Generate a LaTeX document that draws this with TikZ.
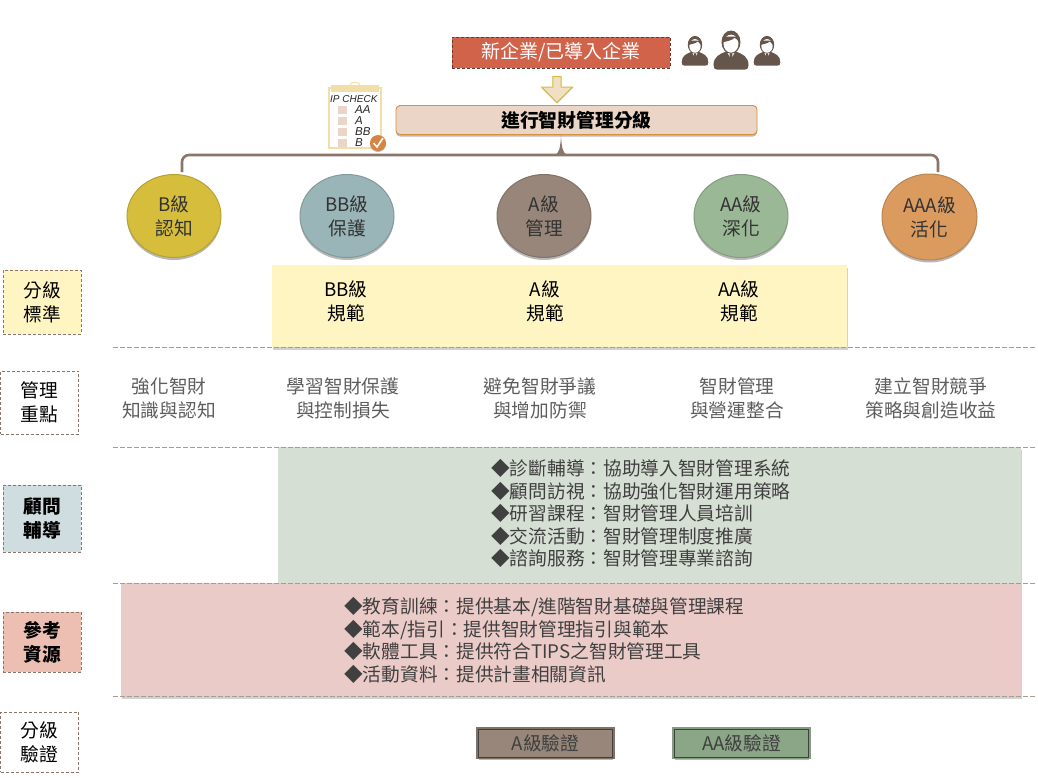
\documentclass[tikz,border=0pt]{standalone}
\usepackage{fontspec}
\setmainfont{Noto Sans CJK TC}
\newfontfamily\tickfont{Liberation Sans}
\usepackage{tikz}
\usetikzlibrary{calc,shadows,shapes.geometric,shapes.arrows}
\definecolor{ink}{HTML}{404040}
\definecolor{linegray}{HTML}{A69C94}
\definecolor{edgebrown}{HTML}{8B7568}
\definecolor{iconbrown}{HTML}{65554A}
\definecolor{topred}{HTML}{D1634A}
\definecolor{gradefill}{HTML}{EAD5C6}
\definecolor{gradeedge}{HTML}{D8903F}
\definecolor{normyellow}{HTML}{FFF5C2}
\definecolor{sheetedge}{HTML}{F2DFA8}
\definecolor{panelgreen}{HTML}{D6DFD4}
\definecolor{panelpink}{HTML}{EBCBC8}
\definecolor{sideblue}{HTML}{CFDDE0}
\definecolor{sidepink}{HTML}{EDBFB2}
\definecolor{lvlb}{HTML}{D6BE3C}
\definecolor{lvlbb}{HTML}{9AB5B8}
\definecolor{lvla}{HTML}{978679}
\definecolor{lvlaa}{HTML}{9BB896}
\definecolor{lvlaaa}{HTML}{DB9B5F}
\newcommand{\bodyfont}{\fontsize{18.7}{24}\selectfont}
\newcommand{\listfont}{\fontsize{18.7}{22.5}\selectfont}
\newcommand{\personicon}[3]{%
  \begin{scope}[shift={(#1,#2)},scale=#3]
    \fill[iconbrown] (-14,13) .. controls (-14,6) and (-9,4) .. (-4,2)
      -- (4,2) .. controls (9,4) and (14,6) .. (14,13)
      .. controls (14,15.5) and (13,16.5) .. (11,16.5) -- (-11,16.5)
      .. controls (-13,16.5) and (-14,15.5) .. (-14,13) -- cycle;
    \fill[white] (-4,1) -- (0,8) -- (4,1) -- cycle;
    \fill[iconbrown] (-1,3.5) -- (1,3.5) -- (1.3,8) -- (0,10) -- (-1.3,8) -- cycle;
    \fill[iconbrown] (0,-5.5) ellipse (7.6 and 9.3);
    \fill[white] (0,-4.3) ellipse (6 and 7.2);
    \fill[iconbrown] (-6.2,-5.5) .. controls (-3,-6.2) and (1,-7) .. (3,-9)
      .. controls (4.5,-8) and (5.5,-7) .. (6.2,-5.5) -- (6.5,-10) -- (-6.5,-10) -- cycle;
  \end{scope}}

\begin{document}
\begin{tikzpicture}[
  x=1pt,y=-1pt,
  font=\bodyfont,
  text=ink,
  softdrop/.style={drop shadow={shadow xshift=0pt,shadow yshift=#1,opacity=1,fill=black!28}},
  side/.style={draw=edgebrown,densely dashed,line width=0.7pt,minimum width=78pt,
    align=center,inner sep=0pt,text=black},
  lvl/.style={ellipse,minimum width=94pt,minimum height=83pt,inner sep=0pt,align=center,
    line width=1pt,text=black!80,softdrop=-2.5pt},
  focus/.style={align=center,text=ink!85},
  panel/.style={anchor=north west,inner sep=0pt,
    drop shadow={shadow xshift=1pt,shadow yshift=-2.5pt,opacity=1,fill=black!18}},
  rule/.style={draw=linegray,dashed,line width=1pt,dash pattern=on 4.5pt off 2.5pt},
  fork/.style={draw=edgebrown,line width=2.6pt,rounded corners=7pt},
  proof/.style={draw=black!75,line width=0.7pt,minimum width=134pt,minimum height=28pt,
    inner sep=0pt,text=ink,softdrop=-2.5pt},
  tick/.style={font=\fontsize{10}{10}\tickfont\itshape,text=black!85,anchor=west,inner sep=0pt}
]
  \useasboundingbox (0,0) rectangle (1038,777);

  % panels
  \node[panel,fill=normyellow,minimum width=575pt,minimum height=82pt] (normband) at (272,265) {};
  \node[panel,fill=panelgreen,minimum width=743pt,minimum height=136pt] (coachband) at (278,447) {};
  \node[panel,fill=panelpink,minimum width=900pt,minimum height=113pt] (refband) at (121,583) {};

  \coordinate (ruleal) at (113,347);
  \coordinate (ruleat) at (1036,347);
  \coordinate (rulebl) at (113,447);
  \coordinate (rulebt) at (1036,447);
  \coordinate (rulecl) at (113,583);
  \coordinate (rulect) at (1036,583);
  \coordinate (ruledl) at (113,696);
  \coordinate (ruledt) at (1036,696);
  \draw[rule] (ruleal) -- (ruleat);
  \draw[rule] (rulebl) -- (rulebt);
  \draw[rule] (rulecl) -- (rulect);
  \draw[rule] (ruledl) -- (ruledt);

  % top
  \node[draw=black!45!topred,densely dashed,line width=0.6pt,fill=topred,text=white,
    minimum width=218pt,minimum height=31pt,inner sep=0pt,
    font=\fontsize{19}{24}\selectfont] (entry) at (561,52.5) {新企業/已導入企業};
  \node[draw=gradeedge,fill=gradefill,rounded corners=4pt,line width=0.9pt,text=black,
    minimum width=361pt,minimum height=29pt,inner sep=0pt,
    font=\fontsize{18.8}{24}\selectfont\bfseries,softdrop=-2pt] (grade) at (576.5,120) {進行智財管理分級};
  \node[single arrow,draw=lvlb,fill=gradefill!70!normyellow,line width=1pt,rotate=-90,
    minimum height=26pt,minimum width=31pt,single arrow head extend=7pt,
    single arrow head indent=0pt,inner sep=2pt,softdrop=-1pt] (down) at (557,87.5) {};

  \personicon{695}{50}{0.95}
  \personicon{731}{49}{1.25}
  \personicon{767}{50}{0.95}

  % check list
  \node[draw=sheetedge,fill=white,line width=1.5pt,minimum width=52pt,minimum height=60pt,
    inner sep=0pt,softdrop=-0.5pt] (sheet) at (355,118) {};
  \fill[sheetedge] (331,85) rectangle (379,92);
  \draw[sheetedge,line width=1pt] (350,85) .. controls (350,81.5) and (360,81.5) .. (360,85);
  \node[tick] (sheethead) at (330,99) {IP CHECK};
  \foreach \ypos/\itemname in {110/AA,121/A,132/BB,143/B}{
    \fill[gradefill] (338,\ypos-4) rectangle (347,\ypos+4);
    \node[tick,font=\fontsize{11.5}{12}\tickfont\itshape] at (355,\ypos) {\itemname};
  }
  \node[circle,fill=gradeedge!75!topred,minimum size=16pt,inner sep=0pt,softdrop=-1pt] (okmark) at (378,143) {};
  \draw[white,line width=1.6pt] (373.5,143) -- (377,147) -- (383,138);

  % level circles
  \node[lvl,fill=lvlb,draw=lvlb!85!black] (lvlbnode) at (174,216) {B級\\認知};
  \node[lvl,fill=lvlbb,draw=lvlbb!85!black] (lvlbbnode) at (347,216) {BB級\\保護};
  \node[lvl,fill=lvla,draw=lvla!85!black] (lvlanode) at (544,216) {A級\\管理};
  \node[lvl,fill=lvlaa,draw=lvlaa!85!black] (lvlaanode) at (741,216) {AA級\\深化};
  \node[lvl,fill=lvlaaa,draw=lvlaaa!85!black,minimum width=95pt,minimum height=86pt] (lvlaaanode) at (929.5,217) {AAA級\\活化};

  \coordinate (forkl) at (182,172);
  \coordinate (forkr) at (938,172);
  \coordinate (forktap) at (561,135);
  \draw[fork] (forkl) -- (182,155) -- (938,155) -- (forkr);
  \fill[edgebrown] (forktap) .. controls (561.5,148) and (563,153) .. (567,155)
    -- (555,155) .. controls (559,153) and (560.5,148) .. (forktap) -- cycle;

  % rows
  \node[focus,text=black] (normbb) at (346,301) {BB級\\規範};
  \node[focus,text=black] (norma) at (545,301) {A級\\規範};
  \node[focus,text=black] (normaa) at (739,301) {AA級\\規範};

  \node[focus] (focusb) at (169,398.5) {強化智財\\知識與認知};
  \node[focus] (focusbb) at (343,398.5) {學習智財保護\\與控制損失};
  \node[focus] (focusa) at (540,398.5) {避免智財爭議\\與增加防禦};
  \node[focus] (focusaa) at (737,398) {智財管理\\與營運整合};
  \node[focus] (focusaaa) at (931,398) {建立智財競爭\\策略與創造收益};

  \node[align=left,anchor=north west,inner sep=0pt,font=\listfont] (coachlist) at (491,459.5)
    {◆診斷輔導：協助導入智財管理系統\\◆顧問訪視：協助強化智財運用策略\\
     ◆研習課程：智財管理人員培訓\\◆交流活動：智財管理制度推廣\\
     ◆諮詢服務：智財管理專業諮詢};
  \node[align=left,anchor=north west,inner sep=0pt,font=\listfont] (reflist) at (344,597.5)
    {◆教育訓練：提供基本/進階智財基礎與管理課程\\◆範本/指引：提供智財管理指引與範本\\
     ◆軟體工具：提供符合TIPS之智財管理工具\\◆活動資料：提供計畫相關資訊};

  % proof boxes
  \node[proof,fill=lvla,preaction={draw=lvla!85!black,line width=4.5pt}] (proofa) at (545.5,743) {A級驗證};
  \node[proof,fill=lvlaa!90!black,preaction={draw=lvlaa!85!black,line width=4.5pt}] (proofaa) at (741.5,743) {AA級驗證};

  % side labels
  \node[side,fill=normyellow,minimum height=64pt] (sidenorm) at (42,302) {分級\\標準};
  \node[side,fill=white,minimum height=63pt] (sidefocus) at (39.5,402.5) {管理\\重點};
  \node[side,fill=sideblue,minimum height=67pt,font=\bodyfont\bfseries] (sidecoach) at (42,518.5) {顧問\\輔導};
  \node[side,fill=sidepink,minimum height=60pt,font=\bodyfont\bfseries] (sideref) at (42,642) {參考\\資源};
  \node[side,fill=white,minimum height=60pt] (sideproof) at (39.5,742) {分級\\驗證};
\end{tikzpicture}
\end{document}
